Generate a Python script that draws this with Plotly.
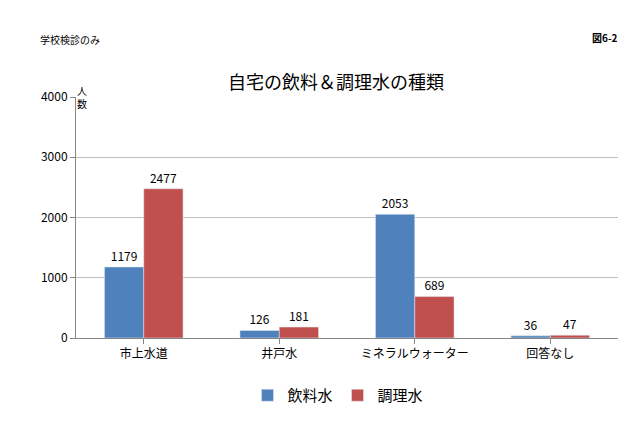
import plotly.graph_objs as go

categories = ["市上水道", "井戸水", "ミネラルウォーター", "回答なし"]
drinking = [1179, 126, 2053, 36]
cooking = [2477, 181, 689, 47]

font = "Noto Sans CJK JP"

L, R, T, B = 68, 30, 89, 97
W, H = 640, 427
pw, ph = W - L - R, H - T - B


def px(x):
    return (x - L) / pw


def py(y):
    return (H - B - y) / ph


fig = go.Figure()
fig.add_trace(go.Bar(name="飲料水", x=categories, y=drinking, marker_color="#4F81BD",
                     text=drinking, textposition="outside", cliponaxis=False,
                     textfont=dict(size=12, color="black")))
fig.add_trace(go.Bar(name="調理水", x=categories, y=cooking, marker_color="#C0504D",
                     text=cooking, textposition="outside", cliponaxis=False,
                     textfont=dict(size=12, color="black")))

fig.update_layout(
    width=W, height=H,
    font=dict(family=font, size=12, color="black"),
    paper_bgcolor="white", plot_bgcolor="white",
    margin=dict(l=L, r=R, t=T, b=B, autoexpand=False),
    barmode="group", bargap=0.42, bargroupgap=0,
    title=dict(text="自宅の飲料＆調理水の種類", x=px(328), xref="paper",
               y=1 - 75 / H, yanchor="middle", xanchor="center",
               font=dict(size=18)),
    legend=dict(orientation="h", x=px(330), xanchor="center", y=py(371), yanchor="top",
                font=dict(size=15)),
    yaxis=dict(range=[0, 4000], dtick=1000, showgrid=True, gridcolor="#BFBFBF",
               showline=True, linecolor="#868686", ticks="outside", tickcolor="#868686",
               tickfont=dict(size=12)),
    xaxis=dict(showline=True, linecolor="#868686", ticks="outside", tickcolor="#868686",
               tickfont=dict(size=12)),
    annotations=[
        dict(text="学校検診のみ", x=px(30), y=py(22), xref="paper", yref="paper",
             showarrow=False, xanchor="left", font=dict(size=10)),
        dict(text="人<br>数", x=px(67), y=py(73), xref="paper", yref="paper",
             showarrow=False, font=dict(size=10)),
        dict(text="<b>図6-2</b>", x=px(612), y=py(20), xref="paper", yref="paper",
             showarrow=False, xanchor="right", font=dict(size=10)),
    ],
)

fig.write_html("out.html")
